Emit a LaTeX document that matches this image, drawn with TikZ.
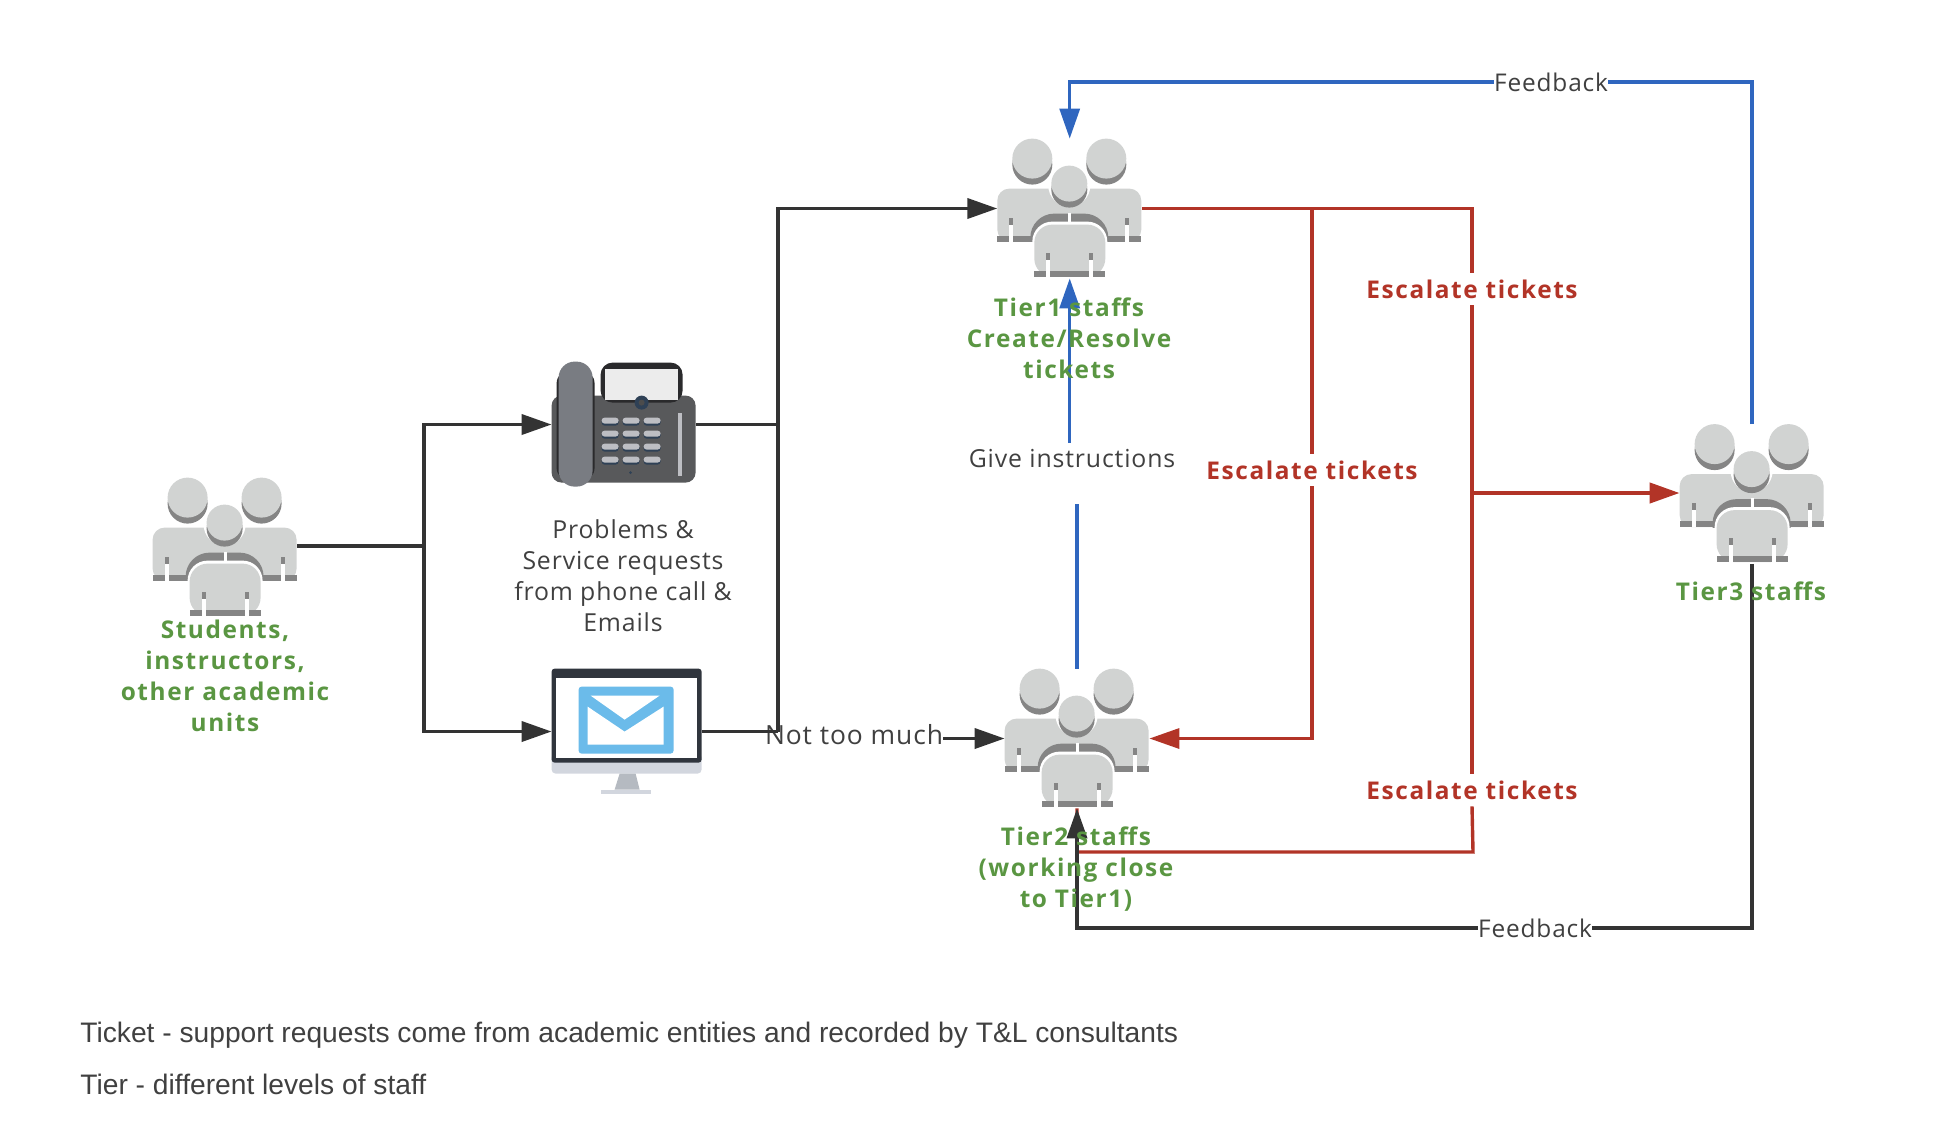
\documentclass[tikz,border=0pt]{standalone}
\usepackage{xcolor}
\usepackage{fontspec}
\setmainfont[LetterSpace=3.5,BoldFeatures={LetterSpace=6.5}]{Open Sans}
\newfontfamily\notefont{Liberation Sans}
\usetikzlibrary{arrows.meta}
\definecolor{figblue}{HTML}{2F66BF}
\definecolor{figred}{HTML}{B23427}
\definecolor{figgreen}{HTML}{5A9642}
\definecolor{figdark}{HTML}{333333}
\definecolor{figtext}{HTML}{404040}
\definecolor{figlight}{HTML}{D1D3D2}
\definecolor{figmid}{HTML}{858585}
\definecolor{phonebody}{HTML}{58595B}
\definecolor{phoneedge}{HTML}{2A2A2C}
\definecolor{phonescreen}{HTML}{ECECEC}
\definecolor{phonecam}{HTML}{2F4156}
\definecolor{phonehand}{HTML}{797C82}
\definecolor{phonekey}{HTML}{BDBEC3}
\definecolor{mailbase}{HTML}{D2D6DE}
\definecolor{mailedge}{HTML}{30353D}
\definecolor{mailstand}{HTML}{B5BAC1}
\definecolor{mailblue}{HTML}{6BBBEA}
\tikzset{
  staffbox/.style={minimum width=72pt,minimum height=69.5pt,inner sep=0pt},
  phonebox/.style={minimum width=72pt,minimum height=62.5pt,inner sep=0pt},
  mailbox/.style={minimum width=75pt,minimum height=62.5pt,inner sep=0pt},
  stafflabel/.style={align=center,text=figgreen,font=\fontsize{12.2}{15.5}\selectfont\bfseries},
  escalabel/.style={text=figred,fill=white,inner sep=0pt,minimum height=16pt,font=\fontsize{12.2}{15.5}\selectfont\bfseries},
  plainlabel/.style={align=center,text=figtext,font=\fontsize{12.4}{15.5}\selectfont},
  feedlabel/.style={text=figtext,fill=white,inner sep=0pt,font=\fontsize{12.2}{15.5}\selectfont},
  notelabel/.style={anchor=west,text=figtext,inner sep=0pt,font=\notefont\fontsize{14.1}{16}\selectfont},
  darkline/.style={draw=figdark,line width=1.9pt},
  redline/.style={draw=figred,line width=1.7pt},
  blueline/.style={draw=figblue,line width=1.7pt},
  tip/.style={-{Triangle[length=15pt,width=10pt]}},
  staffs/.pic={
    % shoulders of the two back figures
    \fill[figlight,rounded corners=6pt] (0,103) -- (0,50) -- (144,50) -- (144,103) -- cycle;
    \fill[figmid] (0,97) rectangle (144,103);
    \foreach \sx in {12,128} {
      \fill[figmid] (\sx,79) rectangle ++(4,7);
      \fill[white] (\sx,86) rectangle ++(4,17);
    }
    % front figure with its halo
    \begin{scope}
      \clip (30,70) rectangle (114,103);
      \fill[figmid,rounded corners=12pt] (33,140) -- (33,75) -- (111,75) -- (111,140) -- cycle;
    \end{scope}
    \fill[white] (71,74) rectangle (74,84);
    \fill[white,rounded corners=10pt] (35,140) -- (35,83) -- (110,83) -- (110,140) -- cycle;
    \fill[figlight,rounded corners=9pt] (37,138) -- (37,86) -- (108,86) -- (108,138) -- cycle;
    \fill[figmid] (37,132) rectangle (108,138);
    \foreach \sx in {49,92} {
      \fill[figmid] (\sx,114) rectangle ++(4,7);
      \fill[white] (\sx,121) rectangle ++(4,17);
    }
    % heads
    \fill[white] (72,47) circle (21);
    \foreach \hx/\hy/\hr in {35/20/20,109/20/20,72/45/18} {
      \fill[figmid] (\hx,\hy+6) circle (\hr);
      \fill[figlight] (\hx,\hy) circle (\hr);
    }
  },
  deskphone/.pic={
    \fill[phonebody,rounded corners=5pt] (0,34) rectangle (144,121);
    \fill[phoneedge,rounded corners=6pt] (49,1) -- (131,1) -- (131,41) -- (49,41) -- cycle;
    \fill[phonescreen] (53,7) rectangle (126,38);
    \fill[phonecam] (90,41) circle (7);
    \fill[black!70] (90,41) circle (3);
    \fill[phoneedge,rounded corners=7pt] (5,8) rectangle (43,120);
    \fill[phonehand,rounded corners=8pt] (7,0) rectangle (41,125);
    \foreach \kx in {50,71,92} {
      \foreach \ky in {56,69,82,95} {
        \fill[phonecam,rounded corners=1.5pt] (\kx,\ky+1) rectangle ++(17,7);
        \fill[phonekey,rounded corners=1.5pt] (\kx,\ky) rectangle ++(17,6);
      }
    }
    \fill[phonekey] (126,51) rectangle (130,114);
    \fill[phonecam] (79,111) circle (1.5);
  },
  mailscreen/.pic={
    \fill[mailbase,rounded corners=2pt] (0,85) rectangle (150,105);
    \fill[mailedge,rounded corners=1.5pt] (0,0) -- (150,0) -- (150,94) -- (0,94) -- cycle;
    \fill[white] (4,9) rectangle (145,89);
    \fill[mailstand] (68,105) -- (84,105) -- (88,121) -- (63,121) -- cycle;
    \fill[mailbase] (49,121) rectangle (99,125);
    \fill[mailblue,rounded corners=1.5pt] (27,18) rectangle (122,85);
    \fill[white] (39,27) -- (108,27) -- (73,51) -- cycle;
    \fill[white] (36,38) -- (73,63) -- (112,38) -- (112,76) -- (36,76) -- cycle;
  }
}
\begin{document}
\begin{tikzpicture}[x=0.5pt,y=-0.5pt]
    \useasboundingbox (0,0) rectangle (1946,1136);
    \node[staffbox] (students) at (225,547.5) {};
    \node[staffbox] (tier1) at (1069.7,208.5) {};
    \node[staffbox] (tier2) at (1077,738.5) {};
    \node[staffbox] (tier3) at (1752,494) {};
    \node[phonebox] (phone) at (624,424.5) {};
    \node[mailbox] (mail) at (627,731.5) {};
    \foreach \who in {students,tier1,tier2,tier3} {\pic at (\who.north west) {staffs};}
    \pic at (phone.north west) {deskphone};
    \pic at (mail.north west) {mailscreen};

    \coordinate (split) at (424,546);
    \coordinate (merge) at (778,424.5);
    \coordinate (turn2) at (1473,852);
    \coordinate (turn3) at (1472,493);
    \coordinate (giveup) at (1069.7,443);
    \coordinate (givedown) at (1077,504);
    \node[escalabel] (esc1) at (1472,289) {Escalate tickets};
    \node[escalabel] (esc2) at (1312,470) {Escalate tickets};
    \node[escalabel] (esc3) at (1472,790) {Escalate tickets};
    \node[feedlabel] (fb1) at (1551,82) {Feedback};
    \node[feedlabel] (fb2) at (1535,928) {Feedback};
    \node[plainlabel,inner sep=0pt] (give) at (1072,458.5) {Give instructions};
    \node[plainlabel,inner sep=0pt,font=\fontsize{13.2}{15.5}\selectfont] (much) at (854,735) {Not too much};

    \draw[darkline] (students.east |- split) -- (split);
    \draw[darkline,tip] (split) |- (phone.west);
    \draw[darkline,tip] (split) |- (mail.west);
    \draw[darkline] (phone.east) -- (merge);
    \draw[darkline,tip] (merge) |- (tier1.west);
    \draw[darkline] (merge) -- (merge |- mail.east);
    \draw[darkline] (mail.east) -- (merge |- mail.east);
    \draw[darkline,tip] (much.east |- tier2.west) -- (tier2.west);

    \draw[redline] (tier1.east) -| (esc1.north);
    \draw[redline] (esc1.south) -- (turn3);
    \draw[redline] (tier1.east) -| (esc2.north);
    \draw[redline,tip] (esc2.south) |- (tier2.east);
    \draw[redline,line width=2.1pt,tip] (turn3) -- (tier3.west |- turn3);
    \draw[redline] (tier2.south) |- (turn2) -- (esc3.south);
    \draw[redline] (esc3.north) -- (esc3.north |- turn3);

    \draw[darkline] (tier3.south) |- (fb2.east);
    \draw[darkline,tip] (fb2.west) -| (tier2.south);
    \draw[blueline] (tier3.north) |- (fb1.east);
    \draw[blueline,tip] (fb1.west) -| (tier1.north);
    \draw[blueline] (tier2.north) -- (givedown);
    \draw[blueline,tip] (giveup) -- (tier1.south);

    \node[stafflabel] (studentslbl) at (225,676) {Students,\\instructors,\\other academic\\units};
    \node[stafflabel] (tier1lbl) at (1069,338) {Tier1 staffs\\Create/Resolve\\tickets};
    \node[stafflabel] (tier2lbl) at (1076,869) {Tier2 staffs\\(working close\\to Tier1)};
    \node[stafflabel] (tier3lbl) at (1751,591) {Tier3 staffs};
    \node[plainlabel] (problems) at (623,576) {Problems \&\\Service requests\\from phone call \&\\Emails};
    \node[notelabel] (note1) at (80,1035) {Ticket - support requests come from academic entities and recorded by T\&L consultants};
    \node[notelabel] (note2) at (80,1084) {Tier - different levels of staff};
  \end{tikzpicture}
\end{document}
